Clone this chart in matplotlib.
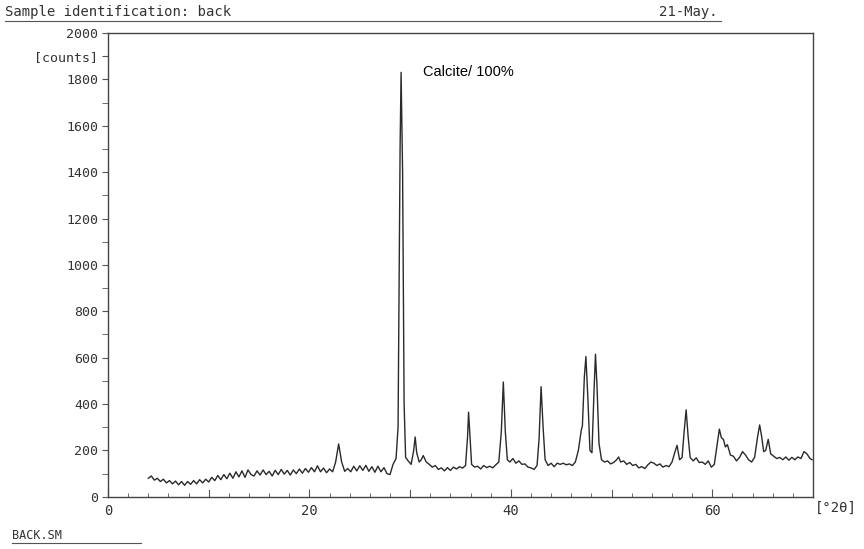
import numpy as np
import matplotlib
matplotlib.use("Agg")
import matplotlib.pyplot as plt
from matplotlib.ticker import MultipleLocator, FixedLocator, FixedFormatter

# diffractogram: 2theta (deg) and counts
two_theta = [
    4.0, 4.3, 4.6, 4.9, 5.2, 5.5, 5.8, 6.1, 6.4, 6.7, 7.0, 7.3, 7.6, 7.9,
    8.2, 8.5, 8.8, 9.1, 9.4, 9.7, 10.0, 10.3, 10.6, 10.9, 11.2, 11.5, 11.8,
    12.1, 12.4, 12.7, 13.0, 13.3, 13.6, 13.9, 14.2, 14.5, 14.8, 15.1, 15.4,
    15.7, 16.0, 16.3, 16.6, 16.9, 17.2, 17.5, 17.8, 18.1, 18.4, 18.7, 19.0,
    19.3, 19.6, 19.9, 20.2, 20.5, 20.8, 21.1, 21.4, 21.7, 22.0, 22.3, 22.6,
    22.9, 23.2, 23.5, 23.8, 24.1, 24.4, 24.7, 25.0, 25.3, 25.6, 25.9, 26.2,
    26.5, 26.8, 27.1, 27.4, 27.7, 28.0, 28.3, 28.6, 28.8, 29.0, 29.1, 29.25,
    29.4, 29.55, 29.8, 30.1, 30.35, 30.5, 30.65, 30.9, 31.1, 31.3, 31.6,
    31.9, 32.2, 32.5, 32.8, 33.1, 33.4, 33.7, 34.0, 34.3, 34.6, 34.9, 35.2,
    35.5, 35.7, 35.8, 35.95, 36.1, 36.4, 36.7, 37.0, 37.3, 37.6, 37.9, 38.2,
    38.5, 38.8, 39.05, 39.25, 39.45, 39.65, 39.9, 40.2, 40.5, 40.8, 41.1,
    41.4, 41.7, 42.0, 42.3, 42.6, 42.8, 43.0, 43.2, 43.4, 43.7, 44.0, 44.3,
    44.6, 44.9, 45.2, 45.5, 45.8, 46.1, 46.4, 46.7, 47.0, 47.1, 47.3, 47.45,
    47.65, 47.85, 48.05, 48.25, 48.4, 48.55, 48.75, 49.0, 49.3, 49.6, 49.9,
    50.2, 50.5, 50.7, 50.9, 51.2, 51.5, 51.8, 52.1, 52.4, 52.7, 53.0, 53.3,
    53.6, 53.9, 54.2, 54.5, 54.8, 55.1, 55.4, 55.7, 56.0, 56.3, 56.5, 56.75,
    57.0, 57.2, 57.4, 57.6, 57.8, 58.1, 58.4, 58.7, 59.0, 59.3, 59.6, 59.9,
    60.2, 60.5, 60.7, 60.9, 61.1, 61.3, 61.5, 61.8, 62.1, 62.4, 62.7, 63.0,
    63.3, 63.6, 63.9, 64.2, 64.5, 64.7, 64.9, 65.1, 65.3, 65.55, 65.8, 66.1,
    66.4, 66.7, 67.0, 67.3, 67.6, 67.9, 68.2, 68.5, 68.8, 69.1, 69.4, 69.7,
    69.9,
]
counts = [
    80, 90, 72, 80, 66, 76, 60, 70, 56, 68, 52, 66, 50, 66,
    54, 70, 56, 74, 60, 76, 64, 84, 70, 92, 74, 96, 78,
    102, 80, 108, 86, 112, 84, 116, 96, 90, 112, 94, 116,
    96, 110, 90, 114, 96, 118, 98, 114, 94, 116, 100, 120,
    102, 122, 106, 126, 108, 134, 108, 124, 104, 120, 108, 150,
    228, 150, 110, 122, 108, 132, 112, 134, 114, 136, 110, 130,
    106, 132, 108, 126, 100, 96, 140, 165, 300, 1500, 1830, 1400,
    400, 170, 155, 140, 200, 258, 190, 150, 160, 178, 150,
    140, 128, 135, 118, 125, 112, 126, 114, 128, 120, 130, 124,
    135, 260, 365, 250, 140, 128, 132, 120, 135, 126, 132, 125,
    138, 150, 280, 495, 280, 160, 150, 165, 145, 155, 140,
    142, 128, 125, 118, 135, 250, 475, 300, 160, 135, 145, 130,
    145, 140, 145, 138, 142, 135, 150, 200, 290, 305, 520, 605,
    420, 200, 190, 450, 615, 480, 230, 160, 150, 155, 142,
    148, 160, 172, 150, 155, 140, 148, 135, 140, 125, 130, 122,
    138, 150, 145, 135, 142, 128, 135, 130, 150, 195, 222, 160,
    170, 280, 375, 260, 170, 155, 168, 148, 150, 140, 155, 128,
    140, 230, 292, 255, 248, 215, 225, 180, 175, 155, 170, 195,
    180, 160, 150, 170, 260, 310, 260, 195, 200, 248, 185, 175,
    165, 170, 160, 172, 158, 170, 160, 172, 165, 195, 185, 165,
    160,
]

y_major = [0, 200, 400, 600, 800, 1000, 1200, 1400, 1600, 1800, 1900, 2000]
y_labels = ["0", "200", "400", "600", "800", "1000", "1200", "1400",
            "1600", "1800", "[counts]", "2000"]
x_labels = ["0", "20", "40", "60"]

INK = "#333333"
MONO = ["DejaVu Sans Mono"]


def draw_chart():
    fig = plt.figure(figsize=(8.64, 5.49), dpi=100)
    ax = fig.add_axes([0.125, 0.095, 0.816, 0.845])

    ax.plot(two_theta, counts, color="#2a2a2a", linewidth=1.0)

    ax.set_xlim(0, 70)
    ax.set_ylim(0, 2000)

    for s in ax.spines.values():
        s.set_color("#444444")
        s.set_linewidth(1.0)

    # y axis: ticks every 100, labels every 200, "[counts]" at 1900
    ax.yaxis.set_major_locator(FixedLocator(y_major))
    ax.yaxis.set_major_formatter(FixedFormatter(y_labels))
    ax.yaxis.set_minor_locator(MultipleLocator(100))
    ax.tick_params(axis="y", which="both", direction="out", length=4,
                   color="#555555", labelsize=9.5, labelcolor=INK, pad=3)

    # x axis: small ticks every 2 deg, larger every 10
    ax.xaxis.set_major_locator(FixedLocator([0, 20, 40, 60]))
    ax.xaxis.set_major_formatter(FixedFormatter(x_labels))
    ax.xaxis.set_minor_locator(MultipleLocator(2))
    ax.tick_params(axis="x", which="minor", direction="in", length=3,
                   color="#555555")
    ax.tick_params(axis="x", which="major", direction="in", length=6,
                   color="#555555", labelsize=10, labelcolor=INK, pad=5)
    for lab in ax.get_xticklabels() + ax.get_yticklabels():
        lab.set_family(MONO)
    for t in [10, 30, 50]:
        ax.plot([t, t], [0, 28], color="#555555", linewidth=0.8,
                clip_on=False)

    # header / footer text like the plotter output
    fig.text(0.006, 0.965, "Sample identification: back", family=MONO,
             fontsize=10, color=INK, ha="left", va="bottom")
    fig.add_artist(plt.Line2D([0.006, 0.835], [0.962, 0.962],
                              color="#555555", linewidth=0.8))
    fig.text(0.763, 0.965, "21-May.", family=MONO, fontsize=10,
             color=INK, ha="left", va="bottom")
    fig.text(0.014, 0.013, "BACK.SM", family=MONO, fontsize=8.5,
             color=INK, ha="left", va="bottom")
    fig.add_artist(plt.Line2D([0.014, 0.163], [0.011, 0.011],
                              color="#555555", linewidth=0.8))
    fig.text(0.943, 0.075, "[°2θ]", family=MONO, fontsize=10,
             color=INK, ha="left", va="center")

    ax.text(0.447, 0.915, "Calcite/ 100%", transform=ax.transAxes,
            family=["Liberation Sans", "DejaVu Sans"],
            fontsize=10.5, color="black", ha="left", va="center")

    fig.savefig("out.png", dpi=100)


def main():
    draw_chart()


if __name__ == "__main__":
    main()
